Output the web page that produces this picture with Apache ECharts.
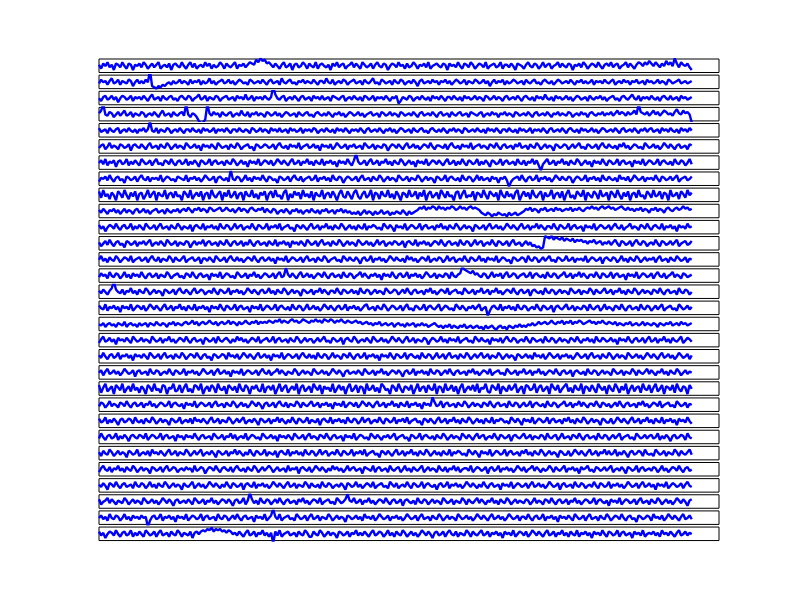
<!DOCTYPE html>
<html>
<head>
<meta charset="utf-8">
<script src="https://cdn.jsdelivr.net/npm/echarts@6/dist/echarts.min.js"></script>
<style>
  html, body { margin: 0; padding: 0; background: #fff; }
  #main { width: 800px; height: 600px; }
</style>
</head>
<body>
<div id="main"></div>
<script>
// one noisy trace per panel, top to bottom
const r01 = [1,-2,2,0,3,-1,1,-3,2,1,-1,3,0,-2,2,1,-3,1,0,2,
-1,3,1,-2,0,2,-1,1,3,-2,0,1,-1,2,-3,1,2,0,-1,3,
0,-2,1,3,-1,2,-2,0,1,-1,3,0,2,-2,1,-1,0,3,1,-2,
2,0,-1,1,3,-2,1,0,2,-1,1,3,2,1,5,3,6,4,5,2,
3,1,-1,2,0,-2,1,3,-1,0,2,-3,1,2,-1,0,3,1,-2,2,
0,-1,3,-2,1,2,0,-1,1,-3,2,0,3,-1,1,2,-2,0,1,3,
-1,2,0,-2,3,1,-1,0,2,-2,1,3,0,-1,2,1,-3,0,2,1,
-1,3,0,1,-2,2,-1,0,3,1,-2,1,0,2,-1,3,-2,0,1,2,
0,-1,2,1,-3,2,0,1,-1,3,0,-2,2,1,-1,3,1,-2,0,2,
1,-1,3,-2,0,1,2,-1,0,3,-2,1,1,-1,2,0,-3,2,1,0,
-2,1,3,0,-1,2,1,-2,0,3,-1,1,2,-2,0,1,3,-1,2,0,
-1,2,1,-3,1,0,2,-1,3,1,-2,0,2,1,-1,3,0,-2,1,2,
0,3,-1,1,2,-2,0,1,3,-1,2,0,-2,1,3,2,0,3,1,4,
2,0,3,1,-1,2,0,4,1,3,0,6,2,-1,3,1,0,2,-1,-3];
const r02 = [-1,2,0,1,-2,1,3,-1,0,2,-2,1,0,-1,2,1,-3,0,2,-1,
1,-1,2,0,9,-3,-4,-5,-3,-4,-2,-3,-1,0,-2,1,-1,0,2,-1,
1,0,-2,2,-1,1,0,2,-2,1,-1,0,3,-1,1,-2,0,1,2,-1,
0,2,-1,1,-2,0,2,1,-1,0,-2,2,1,-1,0,1,-1,2,0,-2,
1,2,-1,0,1,-2,3,0,-1,1,2,-1,0,-2,1,0,2,-1,1,0,
-1,2,0,-2,1,1,-1,3,0,-1,2,-2,0,1,-1,2,1,-2,0,1,
2,-1,0,1,-2,2,0,-1,1,3,-1,0,-2,2,1,-1,0,1,-2,2,
0,-1,2,1,-2,0,1,-1,2,0,-3,1,2,-1,0,1,-1,2,0,1,
-2,1,0,2,-1,1,-2,0,2,1,-1,0,2,-2,1,0,-1,2,1,-1,
0,2,-1,1,-3,0,2,-1,1,0,2,-2,1,-1,0,2,1,-1,0,1,
-2,2,0,-1,1,2,-1,0,-2,1,2,0,-1,1,-2,0,2,1,-1,0,
1,-1,2,0,-2,1,0,2,-1,1,-1,0,2,-2,1,0,1,-1,2,0,
-1,1,2,-2,0,1,-1,2,0,1,-2,1,0,2,-1,0,1,-2,2,0,
1,-1,0,2,-1,1,0,-2,2,1,-1,0,1,2,-1,0,1,-1,0,1];
const r03 = [0,-2,1,2,-1,0,2,-1,1,-3,0,2,1,-1,0,2,-2,1,0,1,
-1,2,0,-2,1,3,-1,0,1,-2,2,0,-1,1,2,-1,0,-2,1,2,
0,-1,2,1,-2,0,1,3,-1,0,2,-2,1,0,-1,2,1,-2,0,1,
2,-1,0,1,-2,2,0,1,-1,3,-1,0,2,-2,1,0,1,-1,2,0,
-1,1,9,3,0,-1,1,2,-2,0,1,-1,2,0,-2,1,2,-1,0,1,
-2,2,0,1,-1,2,-1,0,1,-2,2,1,0,-1,1,2,-2,0,1,-1,
2,0,-1,1,-2,2,1,-1,0,2,-2,1,0,1,-1,2,0,-2,1,0,
2,-4,-2,1,0,-1,2,1,-2,0,1,-1,2,0,-1,1,-2,2,0,1,
-1,2,0,-2,1,1,-1,2,0,-1,1,-2,2,0,1,-1,0,2,-1,1,
0,-2,2,1,-1,0,2,-1,1,0,-2,1,2,-1,0,1,-1,2,0,-2,
1,2,0,-1,1,-2,2,0,1,-1,3,0,-1,1,-2,2,0,1,-1,0,
2,-1,1,-2,0,2,1,-1,0,1,-2,2,0,-1,1,0,2,-1,1,-2,
0,1,2,-1,0,-2,1,2,0,-1,1,3,0,-1,2,-2,1,0,1,-1,
2,0,-1,1,-2,1,2,0,-1,2,-1,0,1,-2,2,0,1,-1,0,1];
const r04 = [1,3,8,0,-1,2,1,-2,0,2,-1,1,3,-1,0,2,-2,1,0,-1,
2,1,-2,0,1,-1,2,0,-2,1,3,-1,0,1,-2,2,0,-1,1,2,
-1,8,0,-2,1,0,-2,-5,-7,-6,-4,8,1,-1,2,0,1,-2,2,0,
-1,1,2,-2,0,1,-1,3,0,-1,2,-2,1,0,2,-1,1,0,-2,2,
1,-1,0,2,-1,1,-2,0,2,1,-1,0,1,-2,2,0,-1,1,2,-1,
0,-2,1,2,0,-1,1,-1,2,0,-2,1,0,2,-1,1,-2,0,2,1,
-1,0,2,-1,1,-2,0,1,2,-1,0,1,-2,2,1,-1,0,2,-1,1,
0,-2,2,1,-1,0,1,-1,2,0,-2,1,2,-1,0,1,-1,2,0,-2,
1,2,-1,0,1,-2,2,0,-1,1,2,-1,0,1,-2,2,1,0,-1,1,
2,-2,0,1,-1,2,0,1,-2,1,0,2,-1,1,0,-2,2,1,-1,0,
1,-1,2,0,-2,1,2,-1,0,1,-1,2,0,-2,1,0,2,-1,1,0,
-1,2,1,-2,0,1,-1,2,0,1,-2,1,2,0,-1,1,0,2,-1,1,
0,2,-1,1,3,0,2,1,-1,2,0,1,3,0,8,2,1,0,2,-1,
1,3,0,2,-1,1,3,2,0,1,-1,2,4,1,0,3,1,2,0,-6];
const r05 = [2,-1,0,1,-2,2,0,-1,1,2,-2,0,1,-1,2,0,-1,1,-2,1,
0,2,-1,1,7,0,-1,2,-2,1,0,-1,2,1,-2,0,1,-1,2,0,
-2,1,1,-1,2,0,-1,1,-2,2,0,1,-1,0,2,-2,1,0,1,-1,
2,0,-2,1,1,-1,2,0,-1,1,0,-2,2,1,-1,0,2,-1,1,0,
-2,2,0,1,-1,2,-1,0,1,-2,2,0,1,-1,0,2,-2,1,0,1,
-1,2,1,-2,0,1,-1,2,0,-1,1,-2,2,0,1,-1,2,0,-2,1,
0,1,-1,2,0,-2,1,2,-1,0,1,-1,2,0,-2,1,0,2,-1,1,
-2,0,2,1,-1,0,1,-2,2,0,-1,1,2,-1,0,-2,1,2,0,-1,
1,-1,2,0,-2,1,0,2,-1,1,0,-2,2,1,-1,0,1,-1,2,0,
-1,1,-2,2,0,1,-1,2,0,-2,1,1,-1,2,0,-1,1,-2,2,0,
1,-1,0,2,-2,1,0,1,-1,2,0,-2,1,2,-1,0,1,-1,2,0,
-2,1,2,0,-1,1,-2,2,0,1,-1,0,2,-1,1,-2,0,2,1,-1,
0,1,-1,2,0,-2,1,2,-1,0,1,-1,2,0,-2,1,0,2,-1,1,
2,-1,0,1,-2,2,0,1,-1,2,0,-1,1,-2,2,0,1,-1,2,0];
const r06 = [-1,1,2,-2,0,3,-1,1,0,-2,2,1,-1,0,2,-3,1,2,0,-1,
2,0,-2,1,3,-1,0,1,-2,2,0,-1,3,1,-2,0,2,-1,1,0,
-2,3,1,-1,0,2,-1,1,-3,2,0,1,-1,2,0,-2,3,1,-1,0,
1,-2,2,0,-1,3,1,-2,0,1,2,-1,0,-3,2,1,-1,0,2,1,
-1,0,2,-2,1,3,0,-1,1,-2,2,0,1,-1,3,-2,0,1,2,-1,
0,2,-1,1,-3,2,0,1,-1,2,-2,0,3,1,-1,0,2,-2,1,0,
2,-1,0,1,-2,3,1,-1,0,2,-2,1,0,-1,2,1,-3,0,2,1,
-1,2,0,-2,1,3,-1,0,2,-1,1,-2,0,2,1,-1,3,0,-2,1,
1,0,-1,2,-2,1,3,0,-1,1,-2,2,0,1,-1,3,-2,0,1,2,
-1,1,0,-2,2,1,-1,3,0,-2,1,2,-1,0,1,-2,2,0,3,-1,
0,1,-2,2,0,-1,3,1,-2,0,2,-1,1,0,-3,2,1,-1,0,2,
1,-2,0,2,-1,1,3,-1,0,-2,2,1,-1,0,2,-2,1,3,0,-1,
2,0,-1,1,-2,2,0,3,-1,1,-2,0,2,1,-1,0,-2,3,1,-1,
0,2,-1,1,-2,0,3,1,-1,2,0,-2,1,2,-1,0,1,-2,2,1];
const r07 = [0,2,-1,3,-2,1,0,2,-3,1,2,-1,0,3,-2,1,-1,2,0,-2,
3,1,-1,0,2,-2,1,3,-1,0,-2,2,1,-1,3,0,-2,1,2,-1,
0,3,-2,1,-1,2,0,-3,2,1,-1,0,3,-2,1,2,-1,0,1,-2,
2,0,-1,3,1,-2,0,2,-1,1,-3,2,0,1,-1,3,-2,0,2,1,
-1,2,-2,0,3,1,-1,2,0,-2,1,3,-1,0,2,-2,1,0,3,-1,
1,-2,2,0,-1,3,-2,1,0,2,-1,1,-3,2,0,1,-1,3,0,-2,
2,7,1,-1,0,2,-2,1,3,-1,0,2,-2,1,0,3,-1,1,-2,2,
0,-1,3,1,-2,0,2,-1,1,-3,2,0,1,-1,3,-2,0,2,1,-1,
2,0,-2,1,3,-1,0,2,-2,1,-1,3,0,-2,2,1,-1,0,3,-2,
1,-1,2,0,-3,2,1,-1,0,3,-2,1,2,-1,0,1,-2,3,0,-1,
2,-2,1,0,3,-1,2,-2,-6,-1,1,3,-1,0,2,-2,1,0,3,-1,
1,-2,2,0,-1,3,1,-2,0,2,-1,1,-3,2,0,1,-1,3,0,-2,
2,1,-1,0,3,-2,1,2,-1,0,1,-3,2,0,1,-1,3,-2,0,2,
1,-1,0,3,-2,1,2,0,-1,1,-2,3,0,-1,2,1,-2,0,3,-1];
const r08 = [-2,1,0,2,-1,3,0,-2,1,2,-1,0,-3,2,1,-1,0,2,-2,1,
3,0,-1,2,-2,1,0,1,-1,3,-2,0,2,1,-1,0,-2,2,1,0,
-1,3,-2,1,0,2,-1,1,-2,0,3,1,-1,0,2,-3,1,2,0,-1,
1,-2,7,0,-1,2,1,-2,0,3,-1,1,-2,2,0,1,-1,3,0,-2,
2,1,-1,0,-3,2,1,-1,0,2,-2,1,3,0,-1,2,-2,0,1,2,
-1,0,3,-2,1,0,2,-1,1,-2,3,0,-1,2,1,-3,0,2,1,-1,
0,2,-2,1,3,-1,0,1,-2,2,0,-1,3,1,-2,0,2,-1,1,0,
-2,3,1,-1,0,2,-2,1,0,-1,3,1,-2,0,2,-1,1,0,-3,2,
1,-1,0,3,-2,1,2,0,-1,1,-2,3,0,-1,2,1,-2,0,3,-1,
2,-1,0,1,-2,2,0,1,-3,1,0,2,-1,-6,-2,0,1,2,-1,3,
0,-2,1,2,-1,0,3,-2,1,0,2,-1,1,-2,0,3,1,-1,2,0,
-1,2,1,-3,0,2,1,-1,0,3,-2,1,0,2,-1,1,-2,3,0,-1,
2,0,-1,1,-2,3,0,1,-1,2,-2,0,3,1,-1,0,2,-2,1,0,
1,-1,3,0,-2,2,1,-1,0,2,-1,1,3,-2,0,1,2,-1,0,2];
const r09 = [3,-2,4,-1,1,-3,2,0,-4,3,1,-2,4,0,-3,2,-1,3,-4,1,
2,-3,0,4,-2,1,3,-4,2,0,-1,4,-3,1,2,-2,3,-1,0,-4,
3,1,-2,4,-3,0,2,-1,3,-4,1,2,-3,4,0,-2,1,3,-4,2,
-1,4,-2,0,3,-3,1,2,-4,3,0,-1,4,-2,1,-3,2,0,3,-4,
1,3,-2,4,-1,0,-3,2,4,-4,1,-2,3,0,2,-3,4,-1,1,-2,
3,-4,2,0,-1,4,-3,1,2,-2,3,0,-4,1,4,-1,-2,3,0,-3,
2,4,-1,-3,1,3,-2,0,4,-4,2,1,-3,3,0,-1,4,-2,1,-3,
3,0,-4,2,1,-2,4,-1,0,3,-3,2,-1,4,-4,1,3,-2,0,2,
-3,4,1,-2,3,-1,0,-4,2,3,-3,1,4,-2,0,-1,3,-4,2,1,
-2,4,0,-3,3,1,-1,2,-4,4,0,-2,3,-1,1,-3,2,4,-4,0,
3,-1,2,-3,4,0,-2,1,3,-4,2,-1,0,4,-3,1,2,-2,3,-4,
1,4,-2,0,-3,3,1,-1,4,-4,2,0,-2,3,1,-3,4,-1,0,2,
-4,3,1,-2,4,0,-3,2,-1,3,-4,1,2,-2,4,-1,0,-3,3,1,
-2,4,-1,0,3,-3,2,1,-4,4,-1,0,2,-3,3,1,-2,4,0,2];
const r10 = [1,-1,2,0,-2,1,0,2,-1,1,-2,0,2,-1,1,0,-2,1,2,-1,
0,2,-1,1,-2,0,1,2,-1,0,1,-2,2,0,-1,1,0,2,-1,1,
2,0,3,1,-1,2,1,3,0,2,1,-1,3,2,0,1,2,3,0,1,
3,1,0,2,-1,1,3,0,2,1,-1,2,3,1,0,2,1,3,-1,2,
0,-1,2,1,-2,0,1,-1,2,0,-2,1,0,2,-1,1,-2,0,1,-1,
2,0,-1,1,-2,1,0,2,-1,0,1,-2,1,0,2,-1,1,-1,0,-2,
-1,-2,0,-3,-1,1,-2,0,-1,-3,0,-2,-1,1,-2,-1,0,-3,-1,-2,
0,-1,-2,1,-1,-3,0,-2,-1,0,1,3,2,4,1,3,2,4,3,1,
4,2,3,1,3,2,4,3,1,2,4,2,3,1,3,4,2,3,2,1,
-1,-2,-3,-1,-2,-4,-2,-3,-1,-2,-3,-2,-4,-1,-3,-2,-1,-3,-2,-1,
0,2,1,3,0,2,1,-1,2,1,3,0,1,2,0,3,1,2,0,1,
2,1,3,0,2,1,3,1,0,2,3,2,4,2,3,1,3,4,2,3,
4,2,3,1,2,3,4,2,1,3,1,2,0,2,1,3,0,2,1,-1,
2,1,3,0,2,1,-1,2,3,1,0,2,3,1,2,4,2,3,1,2];
const r11 = [2,-1,1,-3,0,2,1,-1,3,0,-2,1,2,-1,0,3,-2,1,-1,2,
0,-2,3,1,-1,0,2,-2,1,3,-1,0,1,-2,2,0,-1,3,1,-2,
1,0,-1,2,-3,1,2,0,-1,3,-2,1,0,2,-1,1,-2,3,0,-1,
2,1,-2,0,3,-1,1,2,-2,0,1,-1,3,0,-2,2,1,-1,0,3,
-2,1,0,2,-1,3,-2,0,1,2,-1,0,-3,2,1,-1,2,0,-2,1,
3,-1,0,2,-2,1,0,3,-1,1,-2,2,0,-1,3,1,-2,0,2,-1,
1,-2,2,0,-1,3,-2,1,0,2,1,-1,0,-2,3,1,-1,2,0,-3,
2,0,1,-1,3,-2,0,2,1,-1,0,3,-2,1,2,-1,0,1,-2,2,
0,3,-1,1,-2,2,0,-1,3,1,-2,0,2,-1,1,0,-3,2,1,-1,
0,2,-2,1,3,-1,0,2,-1,1,-2,0,3,1,-1,2,0,-2,1,3,
-1,0,2,-2,1,0,3,-1,2,0,-2,1,1,-1,3,0,-2,2,1,-1,
0,3,-2,1,2,-1,0,1,-3,2,0,1,-1,3,-2,0,2,1,-1,0,
2,-2,1,3,0,-1,2,-2,0,1,3,-1,1,0,-2,2,1,-1,3,0,
-2,1,2,0,-1,3,-2,1,0,2,-1,1,-3,2,0,1,-1,3,0,1];
const r12 = [1,-2,0,2,-1,3,0,-2,1,2,-1,0,-3,2,1,-1,0,2,-2,1,
0,2,-1,1,3,-2,0,1,-1,2,0,-2,3,1,-1,0,2,-2,1,0,
-1,2,1,-3,0,2,-1,1,0,3,-2,1,2,-1,0,1,-2,2,0,-1,
3,0,-2,1,2,-1,0,2,-2,1,-1,3,0,-2,1,2,-1,0,1,-2,
2,0,-1,3,-2,1,0,2,-1,1,-3,2,0,1,-1,2,0,-2,3,1,
-1,0,2,-2,1,3,-1,0,1,-2,2,0,-1,3,1,-2,0,2,-1,1,
0,-2,3,1,-1,0,2,-1,1,-2,0,3,-1,1,2,-2,0,1,-1,2,
1,-1,0,2,-3,1,2,0,-1,3,-2,1,0,2,-1,1,-2,0,2,1,
-1,3,0,-2,1,2,-1,0,1,-2,3,0,-1,2,1,-2,0,3,-1,1,
2,-2,0,1,-1,3,0,-2,2,1,-1,0,2,-2,1,3,-1,0,1,-2,
0,2,-1,1,-2,-1,-3,-2,-4,-3,6,5,4,6,3,5,4,3,5,2,
4,3,2,4,1,3,2,3,1,2,0,2,1,3,0,1,2,-1,1,0,
2,-1,1,3,0,-2,2,1,-1,0,2,-2,1,3,0,-1,2,1,-2,0,
1,-1,3,0,-2,2,1,-1,0,2,-1,1,3,-2,0,1,2,-1,0,2];
const r13 = [0,3,-1,1,-2,2,0,-1,3,1,-2,0,2,1,-1,3,-2,0,1,2,
-1,0,2,-2,1,3,0,-1,2,-2,1,0,-1,3,1,-2,2,0,-1,1,
3,-2,0,1,2,-1,0,2,-3,1,1,-1,2,0,-2,3,1,-1,0,2,
-2,1,3,0,-1,2,-1,1,-2,0,2,1,-1,3,0,-2,1,2,-1,0,
2,-1,1,-3,2,0,1,-1,3,-2,0,2,1,-1,0,2,-2,1,3,-1,
0,1,-2,2,0,-1,3,1,-2,0,1,2,-1,0,-2,3,1,-1,2,0,
-1,2,0,-3,1,2,-1,0,3,-2,1,0,2,-1,1,-2,0,3,1,-1,
2,0,-1,1,-2,3,0,2,-1,1,-2,0,2,1,-1,3,-2,0,1,-1,
2,1,-2,0,3,-1,1,2,-2,0,1,-1,3,0,-2,2,1,-1,0,3,
-1,1,-2,2,0,1,-1,3,-2,0,2,1,-1,0,-3,2,1,-1,0,2,
1,-2,3,0,-1,2,1,-2,0,2,-1,1,3,-1,0,-2,2,1,-1,0,
3,-1,0,2,-2,1,0,1,-1,3,-2,0,2,1,-1,0,2,-3,1,2,
0,-1,2,1,-2,0,3,-1,1,-2,2,0,-1,3,1,-2,0,2,-1,1,
0,2,-2,1,3,-1,0,1,-2,2,0,-1,3,1,-1,0,2,-2,1,0];
const r14 = [-1,2,0,1,-2,3,0,-1,2,1,-2,0,3,-1,1,-2,2,0,1,-1,
3,0,-2,1,2,-1,0,2,-2,1,0,-1,3,1,-2,0,1,2,-1,0,
-2,2,1,-1,3,0,-2,1,2,-1,0,1,-3,2,0,1,-1,3,-2,0,
2,1,-1,0,-2,3,1,-1,0,2,-2,1,0,3,-1,1,-2,0,2,1,
-1,0,2,-2,1,3,-1,0,6,1,-1,2,0,-2,1,3,-1,0,2,-1,
1,-2,0,2,1,-1,3,0,-2,1,2,-1,0,1,-2,3,0,-1,2,1,
-2,0,1,3,-1,2,0,-2,1,0,2,-1,1,-3,2,0,1,-1,3,0,
-2,1,2,-1,0,3,-2,1,0,2,-1,1,-2,0,3,1,-1,0,2,-2,
1,0,-1,2,1,-2,3,0,-1,1,2,7,5,4,3,2,4,1,2,0,
-1,2,1,-2,0,3,-1,1,0,2,-2,1,3,-1,0,2,1,-2,0,1,
2,-1,0,3,-2,1,2,0,-1,1,-2,3,0,-1,2,1,-2,0,1,3,
-1,0,2,-2,1,0,3,-1,2,0,-2,1,1,-1,3,0,-2,2,1,-1,
0,3,-2,1,2,-1,0,1,-3,2,0,1,-1,3,-2,0,2,1,-1,0,
2,-2,1,3,0,-1,2,-2,0,1,3,-1,1,0,-2,2,1,-1,0,1];
const r15 = [1,-1,2,0,-2,1,3,8,2,0,-1,2,-2,1,0,3,-1,1,-2,2,
0,-1,3,1,-2,0,2,-1,1,0,-3,2,1,-1,0,2,-2,1,3,0,
-1,2,0,-2,1,3,-1,0,2,1,-2,0,1,-1,3,0,-2,2,1,-1,
0,3,-2,1,0,2,-1,1,-2,0,3,1,-1,2,0,-2,1,2,-1,0,
3,-1,1,-2,2,0,-1,3,1,-2,0,2,-1,1,0,-3,2,1,-1,0,
2,-2,1,0,3,-1,2,0,-2,1,1,-1,3,0,-2,2,1,-1,0,2,
-1,1,-2,3,0,-1,2,1,-2,0,2,-1,1,0,-2,3,1,-1,0,2,
1,-2,0,2,-1,3,0,-2,1,2,-1,0,1,-2,2,0,3,-1,1,-2,
0,2,1,-1,3,-2,0,1,2,-1,0,-2,3,1,-1,0,2,-2,1,0,
3,-1,0,2,-2,1,0,3,-1,1,-2,0,2,1,-1,3,0,-2,1,2,
-1,0,2,-3,1,2,0,-1,1,-2,3,0,-1,2,1,-2,0,2,-1,1,
0,-2,3,1,-1,0,2,-2,1,0,-1,3,1,-2,2,0,-1,1,3,-1,
0,2,-2,1,0,3,-1,1,-2,2,0,-1,3,1,-2,0,2,-1,1,0,
-2,2,1,-1,3,0,-2,1,2,-1,0,1,-2,3,0,-1,2,1,-2,0];
const r16 = [2,0,-1,3,-2,1,0,2,-1,1,-3,2,0,1,-1,3,-2,0,2,1,
-1,2,-2,0,3,1,-1,2,0,-2,1,3,-1,0,2,-2,1,0,3,-1,
1,-2,2,0,-1,3,-2,1,0,2,-1,1,-3,2,0,1,-1,3,0,-2,
2,1,-1,0,3,-2,1,2,-1,0,1,-3,2,0,1,-1,3,-2,0,2,
1,-1,0,3,-2,1,2,0,-1,1,-2,3,0,-1,2,1,-2,0,3,-1,
0,2,-1,1,-2,0,3,1,-1,2,0,-2,1,2,-1,0,3,-2,1,0,
2,-1,1,-2,0,2,3,-1,0,1,-2,2,0,-1,3,1,-2,0,2,1,
-1,0,2,-2,1,3,-1,0,-2,2,1,-1,0,3,-2,1,2,0,-1,1,
3,-2,0,2,1,-1,0,-2,3,1,-1,2,0,-2,1,0,2,-1,1,3,
-2,0,1,-6,-2,1,2,0,-1,3,-2,1,0,2,-1,1,-2,3,0,-1,
2,1,-2,0,1,-1,3,0,-2,2,1,-1,0,2,-3,1,2,0,-1,1,
3,-1,0,2,-2,1,0,-1,2,1,-2,3,0,-1,1,2,-2,0,3,-1,
1,0,-2,2,1,-1,3,0,-2,1,2,-1,0,1,-2,3,0,-1,2,1,
-2,0,2,-1,1,3,-2,0,1,2,-1,0,-2,3,1,-1,0,2,-1,1];
const r17 = [0,-1,1,-2,0,1,-1,0,-2,1,0,-1,2,-2,0,1,-1,0,-2,1,
-1,0,1,-2,1,0,-1,2,0,-1,1,0,-2,1,0,2,-1,1,0,-1,
1,2,0,1,3,0,2,-1,1,2,0,1,3,1,0,2,-1,1,2,0,
1,3,0,2,1,-1,2,0,1,3,1,0,2,1,3,0,2,1,2,1,
3,2,1,3,2,4,1,3,2,1,3,4,2,3,1,2,4,3,2,1,
3,2,4,2,3,1,4,3,2,4,3,1,3,2,4,2,1,3,2,1,
2,3,1,2,0,1,2,0,1,-1,1,0,2,-1,0,1,-1,0,1,-2,
0,1,-1,0,-2,1,-1,0,1,-2,0,-1,1,-1,0,-2,-1,0,1,-1,
-2,-1,-3,-1,-2,0,-3,-1,-2,-3,-1,-2,0,-3,-2,-1,-3,-2,-1,-3,
-2,-4,-1,-3,-2,-1,-3,-4,-2,-1,-3,-2,-4,-1,-2,-3,-1,-2,0,-2,
-1,-2,0,-1,1,-1,0,2,0,1,2,0,1,3,1,0,2,1,3,0,
2,1,3,0,2,1,3,2,0,1,2,3,1,2,0,2,1,3,1,0,
2,1,0,2,-1,1,0,-1,1,0,2,-1,0,1,-1,0,2,-1,1,0,
-1,1,0,-2,1,0,-1,1,0,2,-1,0,1,-1,2,0,1,-1,0,1];
const r18 = [-2,1,3,-1,0,2,-1,1,-3,2,0,1,-1,2,0,-2,3,1,-1,0,
2,-1,1,0,-2,3,1,-1,0,2,-2,1,0,3,-1,1,-2,0,2,1,
-1,3,0,-2,1,2,-1,0,1,-3,2,1,-1,0,2,-2,3,0,-1,1,
2,0,-2,1,-1,3,0,2,-1,1,-2,0,2,1,-1,3,-2,0,1,2,
-1,0,3,-2,1,2,-1,0,1,-2,2,0,-1,3,1,-2,0,2,-1,1,
1,-2,0,2,-1,1,3,-1,0,-2,2,1,-1,0,2,-3,1,2,0,-1,
3,1,-2,0,1,-1,2,0,-2,3,1,-1,0,2,-1,1,-2,0,3,1,
-1,2,0,-2,1,3,-1,0,2,-2,1,0,-1,2,1,-3,0,2,1,-1,
0,3,-1,1,-2,2,0,1,-1,3,-2,0,1,2,-1,0,-2,3,1,-1,
2,0,-1,1,-3,2,0,1,-1,2,-2,1,3,0,-1,2,1,-2,0,1,
-1,3,0,-2,2,1,-1,0,1,-2,3,0,-1,2,1,-2,0,2,-1,1,
0,-2,2,1,-1,3,0,-2,1,0,2,-1,1,-2,3,0,-1,2,1,-1,
0,2,-1,1,-3,2,0,1,-1,3,0,-2,1,2,-1,0,2,-2,1,3,
-1,0,2,-2,1,0,3,-1,1,-2,2,0,-1,1,3,-2,0,2,1,-1];
const r19 = [1,-1,3,0,-2,1,2,-1,0,3,-2,1,0,2,-1,1,-3,2,0,1,
-1,2,0,-2,3,1,-1,0,2,-2,1,3,-1,0,1,-2,2,0,-1,3,
1,-2,0,2,1,-1,3,0,-2,1,2,-1,0,-3,2,1,-1,0,2,1,
-2,3,0,1,-1,2,-2,0,3,1,-1,2,0,-2,1,3,-1,0,2,-1,
1,-3,2,0,1,-1,3,-2,0,2,1,-1,0,2,-2,1,3,0,-1,2,
-1,1,-2,3,0,-1,2,1,-2,0,3,-1,1,0,-2,2,1,-1,3,0,
-2,1,2,-1,0,3,-2,1,0,2,-1,1,-3,2,0,1,-1,3,0,-2,
2,1,-1,0,3,-2,1,2,0,-1,1,-2,3,0,-1,2,1,-2,0,3,
-1,0,2,-2,1,3,-1,0,1,-2,2,0,-1,3,1,-2,0,2,-1,1,
3,-1,0,2,-2,1,0,-1,3,1,-2,0,2,-1,1,0,-3,2,1,-1,
0,2,-1,1,-2,3,0,1,-1,2,-2,0,3,1,-1,0,2,-2,1,0,
2,-1,1,-2,0,3,1,-1,0,2,-2,1,3,-1,0,1,-2,2,0,-1,
3,1,-2,0,2,-1,1,0,-2,3,1,-1,0,2,-1,1,-2,0,3,1,
-1,2,0,-2,1,3,-1,0,2,-1,1,-2,0,3,1,-1,0,2,-2,1];
const r20 = [0,2,-2,1,3,-1,0,2,-1,1,-2,0,3,1,-1,0,2,-3,1,2,
-1,0,1,-2,3,0,-1,2,1,-2,0,1,-1,3,0,-2,2,1,-1,0,
3,-2,1,0,2,-1,1,-2,0,3,1,-1,0,2,-2,1,3,-1,0,2,
-1,1,-3,2,0,1,-1,3,-2,0,2,1,-1,0,2,-2,1,3,0,-1,
2,-2,0,1,3,-1,2,0,-2,1,0,-1,3,1,-2,0,2,-1,1,0,
-2,3,1,-1,0,2,-1,1,-2,0,3,1,-1,2,0,-3,1,2,-1,0,
1,-1,2,0,-2,3,1,-1,0,2,-2,1,0,3,-1,1,-2,0,2,1,
-1,2,0,-3,1,2,-1,0,3,-2,1,0,2,-1,1,-2,3,0,-1,2,
1,-2,0,2,-1,3,0,-2,1,2,-1,0,1,-2,2,0,3,-1,1,-2,
0,2,1,-1,3,-2,0,1,2,-1,0,-2,3,1,-1,0,2,-2,1,0,
3,-1,0,2,-2,1,0,3,-1,1,-2,0,2,1,-1,3,0,-2,1,2,
-1,0,2,-3,1,2,0,-1,1,-2,3,0,-1,2,1,-2,0,2,-1,1,
0,-2,3,1,-1,0,2,-2,1,0,-1,3,1,-2,2,0,-1,1,3,-1,
2,0,-2,1,0,3,-1,1,-2,2,0,-1,3,1,-2,0,2,-1,1,0];
const r21 = [3,-3,1,4,-2,0,2,-4,3,1,-1,4,-3,0,2,-2,4,-1,1,-3,
2,0,-4,3,1,-2,4,-1,0,-3,3,2,-4,1,0,4,-2,-1,3,-3,
1,4,-2,0,-3,3,2,-1,4,-4,0,2,-2,3,1,-3,4,0,-1,2,
-4,3,1,-1,2,-3,4,0,-2,3,1,-4,2,0,3,-1,-2,4,-3,1,
2,-1,3,-4,0,4,-2,1,3,-3,0,2,-1,4,-4,1,3,-2,0,2,
-3,4,1,-1,3,-4,2,0,1,-2,4,-3,0,3,-1,2,-4,1,4,-2,
0,3,-3,2,1,-4,4,-1,0,3,-2,1,-3,4,2,-1,0,-4,3,1,
-2,4,0,-3,2,1,-1,3,-4,0,4,-2,1,2,-3,3,0,-1,4,-4,
2,1,-3,4,-1,0,3,-2,2,-4,1,4,-3,0,2,-1,3,-2,4,-3,
1,0,4,-2,-3,3,1,-1,4,-4,2,0,-2,3,-1,1,4,-3,0,2,
-4,3,2,-1,0,4,-3,1,3,-2,0,2,-4,4,1,-1,3,-3,0,2,
4,-2,1,-3,3,0,-1,4,-4,2,1,-2,3,0,-3,4,1,-1,2,-4,
3,0,-2,4,1,-3,2,-1,4,-4,0,3,-2,1,2,-3,4,0,-1,3,
-3,1,4,-2,0,3,-4,2,1,-1,3,-3,4,0,-2,2,1,-4,3,0];
const r22 = [-1,2,1,-2,0,3,-1,1,0,-2,2,1,-1,3,0,-2,1,2,-1,0,
2,-2,1,0,3,-1,1,-2,0,2,1,-1,0,3,-2,1,2,0,-1,1,
-3,2,0,1,-1,3,-2,0,2,1,-1,0,2,-2,1,3,-1,0,1,-2,
2,0,-1,3,1,-2,0,2,-1,1,-2,0,3,1,-1,2,0,-3,1,2,
-1,0,2,-2,1,3,0,-1,2,-2,1,0,-1,3,1,-2,2,0,-1,1,
3,-1,0,2,-2,1,0,2,-1,1,-3,2,0,1,-1,3,-2,0,2,1,
-1,2,-2,0,3,1,-1,2,0,-2,1,3,-1,0,2,-2,1,0,3,-1,
1,-2,2,0,-1,3,-2,1,0,2,-1,1,-3,2,0,1,-1,6,2,-1,
0,3,-2,1,2,-1,0,1,-2,2,0,-1,3,1,-2,0,2,-1,1,0,
-2,2,1,-1,3,0,-2,1,2,-1,0,1,-2,3,0,-1,2,1,-2,0,
2,-1,0,3,-2,1,2,0,-1,1,-2,3,0,-1,2,1,-2,0,1,3,
-1,0,2,-2,1,0,3,-1,2,0,-2,1,1,-1,3,0,-2,2,1,-1,
1,-2,0,2,-1,3,0,-2,1,2,-1,0,1,-2,2,0,3,-1,1,-2,
0,2,1,-1,3,-2,0,1,2,-1,0,-2,3,1,-1,0,2,-2,1,0];
const r23 = [2,-1,0,3,-2,1,-1,2,0,-3,1,2,-1,0,2,1,-2,3,0,-1,
1,-2,2,0,-1,3,1,-2,0,2,-1,1,0,-3,2,1,-1,0,3,-2,
0,1,-1,2,-2,3,0,1,-1,2,0,-2,1,3,-1,0,2,-2,1,0,
-1,3,1,-2,0,2,-1,1,3,-2,0,1,-1,2,0,-3,2,1,-1,0,
2,-2,1,0,3,-1,2,0,-2,1,-1,3,0,-2,2,1,-1,0,3,-2,
1,0,-1,2,-3,1,2,0,-1,3,-2,1,0,2,-1,1,-2,3,0,-1,
2,1,-2,0,3,-1,1,2,-2,0,1,-1,3,0,-2,2,1,-1,0,3,
-2,1,0,2,-1,3,-2,0,1,2,-1,0,-3,2,1,-1,2,0,-2,1,
3,-1,0,2,-2,1,0,3,-1,1,-2,2,0,-1,3,1,-2,0,2,-1,
1,-2,2,0,-1,3,-2,1,0,2,1,-1,0,-2,3,1,-1,2,0,-3,
2,0,1,-1,3,-2,0,2,1,-1,0,3,-2,1,2,-1,0,1,-2,2,
0,3,-1,1,-2,2,0,-1,3,1,-2,0,2,-1,1,0,-3,2,1,-1,
-1,2,-2,0,3,1,-1,2,0,-2,1,3,-1,0,2,-2,1,0,3,-1,
1,-2,2,0,-1,3,-2,1,0,2,-1,1,-3,2,0,1,-1,3,0,-2];
const r24 = [-1,3,0,-2,1,2,-1,0,3,-2,1,-1,2,0,-3,1,2,0,-1,2,
1,-1,3,-2,0,2,1,-1,0,3,-2,1,2,-1,0,1,-3,2,0,1,
-2,2,0,1,-1,3,0,-2,1,2,-1,0,1,-2,3,1,-1,0,2,-2,
1,0,3,-1,2,-2,0,1,-1,3,-2,0,2,1,-1,0,-2,3,1,-1,
0,2,-1,1,-3,2,0,1,-1,2,0,-2,3,1,-1,0,2,-2,1,3,
-1,1,0,-2,2,1,-1,3,0,-2,1,2,-1,0,1,-3,2,0,1,-1,
3,-2,0,2,1,-1,0,-2,3,1,-1,2,0,-2,1,0,2,-1,1,3,
-2,0,1,2,-1,0,-3,2,1,-1,0,3,-2,1,2,0,-1,1,-2,2,
0,-1,3,1,-2,0,2,-1,1,0,-2,3,1,-1,2,0,-2,1,3,-1,
1,2,-2,0,1,-1,3,0,-2,2,1,-1,0,2,-3,1,2,0,-1,1,
3,-1,0,2,-2,1,0,-1,2,1,-2,3,0,-1,1,2,-2,0,3,-1,
0,1,-2,2,1,-1,3,0,-2,1,2,-1,0,1,-2,3,0,-1,2,1,
-2,0,2,-1,1,3,-2,0,1,2,-1,0,-2,3,1,-1,0,2,-1,1,
2,-1,0,3,-2,1,-1,2,0,-3,1,2,-1,0,2,1,-2,3,0,-1];
const r25 = [1,-2,2,0,-1,3,1,-2,0,2,-1,1,0,-3,2,1,-1,0,3,-2,
0,1,-1,2,-2,3,0,1,-1,2,0,-2,1,3,-1,0,2,-2,1,0,
-1,3,1,-2,0,2,-1,1,3,-2,0,1,-1,2,0,-3,2,1,-1,0,
2,-2,1,0,3,-1,2,0,-2,1,-1,3,0,-2,2,1,-1,0,3,-2,
1,0,-1,2,-3,1,2,0,-1,3,-2,1,0,2,-1,1,-2,3,0,-1,
2,1,-2,0,3,-1,1,2,-2,0,1,-1,3,0,-2,2,1,-1,0,3,
-2,1,0,2,-1,3,-2,0,1,2,-1,0,-3,2,1,-1,2,0,-2,1,
3,-1,0,2,-2,1,0,3,-1,1,-2,2,0,-1,3,1,-2,0,2,-1,
1,-2,2,0,-1,3,-2,1,0,2,1,-1,0,-2,3,1,-1,2,0,-3,
2,0,1,-1,3,-2,0,2,1,-1,0,3,-2,1,2,-1,0,1,-2,2,
0,3,-1,1,-2,2,0,-1,3,1,-2,0,2,-1,1,0,-3,2,1,-1,
-1,2,-2,0,3,1,-1,2,0,-2,1,3,-1,0,2,-2,1,0,3,-1,
2,-1,0,3,-2,1,-1,2,0,-3,1,2,-1,0,2,1,-2,3,0,-1,
0,-2,3,1,-1,0,2,-2,1,0,-1,3,1,-2,2,0,-1,1,3,-1];
const r26 = [-2,1,3,0,-1,2,-2,1,0,3,-1,1,-2,2,0,-1,3,1,-2,0,
2,-1,1,0,-3,2,1,-1,0,2,-2,1,3,-1,0,2,1,-2,0,1,
-1,2,0,1,-2,3,-1,0,2,1,-3,0,2,1,-1,3,0,-2,1,2,
0,-1,2,-2,1,3,0,-1,1,-2,2,0,-1,3,1,-2,0,2,-1,1,
3,1,-2,0,2,-1,0,1,-2,3,-1,1,0,2,-3,1,2,0,-1,2,
-2,0,3,1,-1,2,0,-2,1,-1,3,0,2,-1,1,-2,0,3,-1,1,
2,-1,0,1,-3,2,1,0,-1,3,-2,1,2,-1,0,1,-2,3,0,-1,
1,2,-2,0,3,-1,1,-2,2,0,-1,1,3,-2,0,2,-1,1,0,-2,
3,0,-1,2,-2,1,0,3,-1,2,-2,0,1,1,-1,3,-2,0,2,1,
-1,0,2,-3,1,2,-1,0,3,-2,1,0,2,-1,1,-2,0,3,1,-1,
2,-2,0,1,3,-1,2,0,-2,1,-1,0,3,1,-2,2,0,-1,1,3,
-2,1,0,2,-1,1,-3,2,0,1,3,-1,0,-2,2,1,-1,0,2,-1,
1,3,-2,0,1,-1,2,0,-3,2,1,-1,0,3,-2,1,2,-1,0,1,
-1,2,1,-2,0,3,-1,1,-2,0,2,1,-1,3,0,-2,1,2,-1,0];
const r27 = [1,-1,2,0,-3,2,1,-1,3,0,-2,1,2,-1,0,1,-2,3,0,-1,
2,1,-2,0,3,-1,1,-2,2,0,-1,3,1,-2,0,2,-1,1,0,-3,
2,0,-1,1,3,-2,0,2,-1,1,-2,0,3,1,-1,2,0,-2,1,-1,
3,0,-2,2,1,-1,0,2,-3,1,2,0,-1,3,-2,1,0,2,-1,1,
-2,0,3,1,-1,2,0,-2,1,3,-1,0,2,-2,1,0,-1,3,1,-2,
2,0,-1,1,-2,3,0,-1,2,1,-2,0,1,-1,2,0,-3,2,1,-1,
0,3,-1,1,-2,0,2,1,-1,3,-2,0,1,2,-1,0,-2,3,1,-1,
2,-2,0,1,-1,3,0,-2,2,1,-1,0,3,-2,1,2,0,-1,1,-3,
1,2,-1,0,3,-2,1,0,2,-1,1,-2,0,3,1,-1,2,0,-2,1,
-1,3,0,-2,1,2,-1,0,1,-3,2,0,1,-1,3,-2,0,2,1,-1,
0,2,-2,1,3,-1,0,2,-1,1,-2,0,3,1,-1,0,2,-3,1,2,
-1,0,1,-2,3,0,-1,2,1,-2,0,1,-1,3,0,-2,2,1,-1,0,
3,-2,1,0,2,-1,1,-2,0,3,1,-1,0,2,-2,1,3,-1,0,2,
-1,1,-3,2,0,1,-1,3,-2,0,2,1,-1,0,2,-2,1,3,0,-1];
const r28 = [2,-2,0,1,3,-1,2,0,-2,1,0,-1,3,1,-2,0,2,-1,1,0,
-2,3,1,-1,0,2,-1,1,-2,0,3,1,-1,2,0,-3,1,2,-1,0,
1,-1,2,0,-2,3,1,-1,0,2,-2,1,0,3,-1,1,-2,0,2,1,
-1,2,0,-3,1,2,-1,0,3,-2,1,7,2,-1,1,-2,3,0,-1,2,
1,-2,0,2,-1,3,0,-2,1,2,-1,0,1,-2,2,0,3,-1,1,-2,
0,2,1,-1,3,-2,0,1,2,-1,0,-2,3,1,-1,0,2,6,1,0,
3,-1,0,2,-2,1,0,3,-1,1,-2,0,2,1,-1,3,0,-2,1,2,
-1,0,2,-3,1,2,0,-1,1,-2,3,0,-1,2,1,-2,0,2,-1,1,
0,-2,3,1,-1,0,2,-2,1,0,-1,3,1,-2,2,0,-1,1,3,-1,
2,0,-2,1,0,3,-1,1,-2,2,0,-1,3,1,-2,0,2,-1,1,0,
-1,2,1,-2,0,3,-1,1,0,-2,2,1,-1,3,0,-2,1,2,-1,0,
2,-2,1,0,3,-1,1,-2,0,2,1,-1,0,3,-2,1,2,0,-1,1,
-3,2,0,1,-1,3,-2,0,2,1,-1,0,2,-2,1,3,-1,0,1,-2,
2,0,-1,3,1,-2,0,2,-1,1,-2,0,3,1,-1,2,0,-3,1,2];
const r29 = [0,2,-1,1,-2,3,0,-1,2,1,-2,0,3,-1,1,-2,2,0,1,-1,
2,0,1,-7,-2,1,2,-1,0,3,-2,1,0,2,-1,1,-3,2,0,1,
-1,3,-2,0,2,1,-1,0,3,-2,1,2,-1,0,1,-2,3,0,-1,2,
1,-2,0,2,-1,3,0,-2,1,2,-1,0,1,-3,2,0,1,-1,3,-2,
0,2,7,1,-1,3,-2,0,1,2,-1,0,-2,3,1,-1,0,2,-2,1,
3,-1,0,2,-2,1,0,-1,3,1,-2,0,2,-1,1,0,-3,2,1,-1,
0,2,-1,1,-2,3,0,1,-1,2,-2,0,3,1,-1,0,2,-2,1,0,
2,-1,1,-2,0,3,1,-1,0,2,-2,1,3,-1,0,1,-2,2,0,-1,
3,1,-2,0,2,-1,1,0,-2,3,1,-1,0,2,-1,1,-2,0,3,1,
-1,2,0,-2,1,3,-1,0,2,-1,1,-2,0,3,1,-1,0,2,-2,1,
1,-1,3,0,-2,1,2,-1,0,3,-2,1,0,2,-1,1,-3,2,0,1,
-1,2,0,-2,3,1,-1,0,2,-2,1,3,-1,0,1,-2,2,0,-1,3,
1,-2,0,2,1,-1,3,0,-2,1,2,-1,0,-3,2,1,-1,0,2,1,
-2,3,0,1,-1,2,-2,0,3,1,-1,2,0,-2,1,3,-1,0,2,-1];
const r30 = [2,-1,1,-3,0,2,1,-1,3,0,-2,1,2,-1,0,3,-2,1,-1,2,
0,-2,3,1,-1,0,2,-2,1,3,-1,0,1,-2,2,0,-1,3,1,-2,
1,0,-1,2,-3,1,2,0,2,3,2,4,3,5,2,4,3,4,2,3,
1,3,2,0,1,-1,2,0,-2,1,3,-1,0,2,-2,1,0,3,-1,1,
-2,1,-7,2,-1,3,-2,0,1,2,-1,0,1,-2,2,0,-1,3,1,-2,
-2,2,0,-1,3,1,-2,0,2,-1,1,0,-3,2,1,-1,0,2,-2,1,
0,3,-1,1,-1,2,0,-2,1,3,-1,0,2,1,-2,0,3,-1,1,-2,
2,0,-1,3,1,-2,0,2,-1,1,-2,0,3,1,-1,2,0,-3,1,2,
-1,0,2,-2,1,3,0,-1,2,-2,1,0,-1,3,1,-2,2,0,-1,1,
3,-1,0,2,-2,1,0,2,-1,1,-3,2,0,1,-1,3,-2,0,2,1,
-1,2,-2,0,3,1,-1,2,0,-2,1,3,-1,0,2,-2,1,0,3,-1,
1,-2,2,0,-1,3,-2,1,0,2,-1,1,-3,2,0,1,-1,3,0,-2,
2,1,-1,0,3,-2,1,2,-1,0,1,-3,2,0,1,-1,3,-2,0,1,
0,2,-1,1,-2,3,0,1,-1,2,0,-2,1,3,-1,0,2,-1,1,0];

const rows = [r01,r02,r03,r04,r05,r06,r07,r08,r09,r10,r11,r12,r13,r14,r15,
              r16,r17,r18,r19,r20,r21,r22,r23,r24,r25,r26,r27,r28,r29,r30];

const chart = echarts.init(document.getElementById('main'));

const grids = [], xAxes = [], yAxes = [], series = [];
rows.forEach((vals, i) => {
  grids.push({
    left: 99, right: 81,
    top: 59 + i * 16.14, height: 13.5,
    show: true, borderColor: '#000', borderWidth: 1, backgroundColor: '#fff'
  });
  // the trace stops short of the right edge like the original
  xAxes.push({ type: 'value', gridIndex: i, min: 0, max: (vals.length - 1) / 0.956, show: false });
  // tight range: noise fills the middle, spikes run to the frame
  yAxes.push({ type: 'value', gridIndex: i, show: false, min: -5, max: 5.5 });
  series.push({
    type: 'line', xAxisIndex: i, yAxisIndex: i,
    data: vals.map((v, k) => [k, v]),
    showSymbol: false, silent: true, clip: true,
    lineStyle: { color: '#0000ff', width: 2.4 }
  });
});

chart.setOption({
  animation: false,
  backgroundColor: '#fff',
  grid: grids,
  xAxis: xAxes,
  yAxis: yAxes,
  series: series
});
</script>
</body>
</html>
